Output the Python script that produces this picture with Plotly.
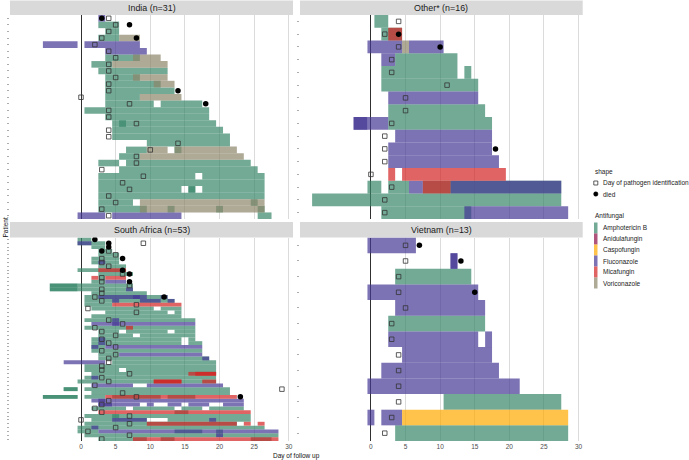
import plotly.graph_objects as go

W, H = 689, 460


def px(x):
    return x / W


def py(y):
    return 1 - y / H


# ---------------- data ----------------
drug_codes = ["A", "N", "C", "F", "M", "V"]
drug_labels = ["Amphotericin B", "Anidulafungin", "Caspofungin", "Fluconazole", "Micafungin", "Voriconazole"]
drug_fill = ["rgba(55,134,105,0.7)", "rgba(141,12,69,0.7)", "rgba(255,170,0,0.7)",
             "rgba(69,55,148,0.7)", "rgba(212,34,34,0.7)", "rgba(141,134,105,0.7)"]
draw_order = ["A", "V", "F", "M", "C", "N"]

panel_titles = ["India (n=31)", "Other* (n=16)", "South Africa (n=53)", "Vietnam (n=13)"]
panel_sizes = [31, 16, 53, 13]
x_ticks = [0, 5, 10, 15, 20, 25, 30]

# segments: (patient, drug, first day, last day)
india_seg = [
    (1, "F", 3, 3),
    (2, "A", 3, 5),
    (3, "A", 4, 5),
    (4, "A", 3, 5), (4, "V", 6, 8),
    (5, "F", -5, -1), (5, "F", 1, 8),
    (6, "F", 4, 9),
    (7, "A", 4, 8), (7, "V", 8, 11),
    (8, "A", 2, 4), (8, "V", 5, 12),
    (9, "A", 3, 12),
    (10, "A", 4, 8), (10, "V", 8, 12),
    (11, "A", 4, 11), (11, "V", 11, 13),
    (12, "A", 4, 13),
    (13, "A", 4, 8), (13, "V", 9, 14),
    (14, "A", 4, 10), (14, "A", 12, 17),
    (15, "A", 1, 18),
    (16, "A", 4, 18),
    (17, "A", 5, 19), (17, "A", 6, 6),
    (18, "A", 5, 20),
    (19, "A", 5, 21),
    (20, "A", 10, 21),
    (21, "A", 7, 9), (21, "V", 10, 12), (21, "V", 14, 22), (21, "A", 14, 14),
    (22, "A", 6, 8), (22, "V", 9, 23),
    (23, "A", 3, 5), (23, "A", 7, 24),
    (24, "A", 6, 25),
    (25, "A", 3, 16), (25, "A", 18, 26),
    (26, "A", 3, 26),
    (27, "A", 3, 14), (27, "A", 16, 16), (27, "A", 16, 16), (27, "A", 18, 26),
    (28, "A", 3, 26),
    (29, "A", 3, 7), (29, "V", 9, 26), (29, "A", 25, 25),
    (30, "A", 3, 9), (30, "V", 9, 26), (30, "A", 13, 13), (30, "A", 20, 20), (30, "A", 26, 26),
    (31, "F", 0, 3), (31, "F", 5, 14), (31, "A", 26, 27),
]
india_id_pat = list(range(1, 32))
india_id_day = [4, 5, 4, 3, 2, 4, 5, 4, 4, 5, 4, 4, 0, 7, 4, 4, 8, 4, 4, 14, 10, 8, 8, 3, 9, 6, 7, 4, 5, 3, 4]
india_died_pat = [1, 2, 4, 12, 14]
india_died_day = [3, 7, 8, 14, 18]

other_seg = [
    (1, "A", 1, 2),
    (2, "A", 2, 4), (2, "M", 3, 4),
    (3, "F", 0, 4), (3, "V", 5, 5), (3, "F", 6, 10),
    (4, "F", 2, 3), (4, "A", 4, 12),
    (5, "A", 2, 12), (5, "A", 14, 14),
    (6, "A", 2, 15),
    (7, "F", 3, 15),
    (8, "A", 3, 16),
    (9, "F", -2, -1), (9, "F", -2, -1), (9, "F", 0, 2), (9, "A", 3, 17),
    (10, "F", 4, 17),
    (11, "F", 3, 17),
    (12, "F", 3, 18),
    (13, "M", 3, 3), (13, "M", 5, 19),
    (14, "A", 0, 1), (14, "A", 3, 5), (14, "F", 6, 7), (14, "A", 8, 27), (14, "M", 8, 11), (14, "F", 12, 27),
    (15, "A", -8, 27),
    (16, "A", 2, 14), (16, "F", 14, 28),
]
other_id_pat = list(range(1, 17))
other_id_day = [4, 2, 4, 3, 3, 11, 5, 5, 3, 2, 2, 2, 0, 3, 2, 2]
other_died_pat = [2, 3, 11]
other_died_day = [4, 10, 18]

sa_seg = [
    (1, "A", 0, 1),
    (2, "A", 0, 3), (2, "F", 0, 1),
    (3, "A", 2, 3),
    (4, "A", 3, 4),
    (5, "A", 3, 5),
    (6, "A", 2, 5),
    (7, "A", 2, 5), (7, "F", 3, 3),
    (8, "A", 3, 6),
    (9, "A", 0, 6), (9, "M", 3, 6),
    (10, "A", 3, 7),
    (11, "M", 2, 2), (11, "A", 3, 3), (11, "M", 4, 6),
    (12, "A", 2, 3), (12, "F", 4, 6),
    (13, "A", -4, -1), (13, "A", -4, -1), (13, "A", 0, 7),
    (14, "A", -4, -1), (14, "A", -4, -1), (14, "A", 0, 7), (14, "F", 7, 7),
    (15, "A", 2, 9),
    (16, "A", 1, 12), (16, "F", 3, 9), (16, "F", 8, 8), (16, "F", 12, 12),
    (17, "A", 1, 13), (17, "F", 5, 5), (17, "F", 9, 11), (17, "F", 13, 13),
    (18, "A", 1, 4), (18, "M", 5, 14),
    (19, "A", 2, 10), (19, "A", 12, 14),
    (20, "A", 4, 12), (20, "A", 14, 14),
    (21, "A", 2, 14),
    (22, "A", 1, 16), (22, "F", 5, 5),
    (23, "F", 2, 16), (23, "F", 5, 5),
    (24, "A", 1, 16), (24, "M", 7, 7),
    (25, "A", 3, 5), (25, "A", 7, 12), (25, "A", 14, 16),
    (26, "A", 3, 7), (26, "A", 9, 16),
    (27, "A", 2, 14), (27, "A", 16, 16), (27, "F", 3, 3),
    (28, "A", 2, 14), (28, "A", 16, 17), (28, "F", 3, 3),
    (29, "A", 2, 3), (29, "F", 2, 2), (29, "F", 4, 17),
    (30, "A", 2, 17),
    (31, "A", 3, 5), (31, "F", 6, 17),
    (32, "A", 3, 18), (32, "F", 18, 18),
    (33, "F", -2, 3), (33, "A", 5, 19),
    (34, "A", 1, 19),
    (35, "A", 1, 5), (35, "A", 7, 19),
    (36, "A", 2, 19), (36, "M", 16, 19), (36, "M", 17, 19),
    (37, "A", 1, 19), (37, "F", 2, 2),
    (38, "A", 0, 19), (38, "M", 11, 14), (38, "M", 11, 14), (38, "M", 18, 19),
    (39, "F", 2, 7), (39, "F", 10, 20),
    (40, "A", -2, -1), (40, "A", -2, -1), (40, "A", 1, 21),
    (41, "A", 2, 21),
    (42, "A", -5, -1), (42, "A", -5, -1), (42, "A", 1, 3), (42, "A", 5, 11), (42, "A", 13, 16), (42, "M", 4, 22),
    (43, "F", 2, 23), (43, "F", 3, 3),
    (44, "F", 3, 4), (44, "F", 3, 4), (44, "F", 5, 8), (44, "F", 10, 10), (44, "F", 13, 14), (44, "F", 16, 18), (44, "F", 21, 23),
    (45, "A", 2, 6), (45, "A", 8, 13), (45, "A", 15, 17), (45, "A", 19, 23),
    (46, "A", 14, 15), (46, "M", 3, 24),
    (47, "A", 1, 24), (47, "A", 5, 5),
    (48, "A", 2, 9), (48, "A", 13, 24), (48, "F", 5, 9), (48, "F", 19, 19),
    (49, "A", 1, 22), (49, "M", 10, 22), (49, "M", 24, 24), (49, "M", 26, 26),
    (50, "A", 0, 26), (50, "F", 2, 2),
    (51, "A", 0, 2), (51, "A", 14, 17), (51, "A", 20, 20), (51, "F", 3, 28),
    (52, "A", 1, 28), (52, "F", 20, 20),
    (53, "A", 3, 7), (53, "A", 8, 9), (53, "A", 12, 13), (53, "A", 25, 27), (53, "M", 8, 28),
]
sa_id_pat = [2, 4, 5, 6, 7, 8, 10, 11, 12, 13, 14, 15, 16, 17, 18, 19, 20, 22, 23, 24, 25, 26, 27, 28,
             29, 30, 31, 32, 33, 34, 35, 36, 37, 38, 39, 40, 41, 42, 43, 44, 45, 46, 47, 48, 49, 50, 51, 52, 53]
sa_id_day = [9, 4, 5, 3, 3, 4, 6, 3, 3, 7, 3, 3, 2, 3, 8, 1, 8, 4, 6, 2, 3, 5, 3, 4,
             5, 3, 5, 4, 4, 3, 3, 7, 3, 4, 2, 29, 6, 8, 4, 3, 2, 3, 7, 0, 7, 5, 1, 7, 3]
sa_died_pat = [1, 2, 3, 4, 6, 9, 10, 12, 16, 42]
sa_died_day = [2, 4, 4, 3, 6, 6, 7, 7, 12, 23]

vn_seg = [
    (1, "F", 0, 6),
    (2, "F", 12, 12), (2, "F", 12, 12),
    (3, "A", 4, 14),
    (4, "F", 0, 15),
    (5, "F", 4, 16),
    (6, "A", 3, 16),
    (7, "F", 3, 15), (7, "F", 17, 17),
    (8, "F", 5, 17),
    (9, "F", 2, 18),
    (10, "F", 0, 21),
    (11, "A", 11, 27),
    (12, "F", 0, 0), (12, "F", 2, 4), (12, "C", 5, 28),
    (13, "A", 4, 28),
]
vn_id_pat = list(range(1, 14))
vn_id_day = [5, 5, 4, 4, 5, 3, 3, 4, 4, 4, 4, 3, 2]
vn_died_pat = [1, 2, 4]
vn_died_day = [7, 13, 15]

# ---------------- layout geometry ----------------
x_left = [px(10), px(293)]
x_right = [px(300), px(582.7)]
y_top = [py(219), py(15)]
y_bot = [py(441), py(237.5)]
panel_dom = [(x_left, y_top), (x_right, y_top), (x_left, y_bot), (x_right, y_bot)]
strip_px = [(10, 293, 0.5, 15), (300, 582.7, 0.5, 15), (10, 293, 222, 237.5), (300, 582.7, 222, 237.5)]

panels = [
    (india_seg, india_id_pat, india_id_day, india_died_pat, india_died_day),
    (other_seg, other_id_pat, other_id_day, other_died_pat, other_died_day),
    (sa_seg, sa_id_pat, sa_id_day, sa_died_pat, sa_died_day),
    (vn_seg, vn_id_pat, vn_id_day, vn_died_pat, vn_died_day),
]

fill_of = dict(zip(drug_codes, drug_fill))
FONT = "Liberation Sans, Arial, sans-serif"

fig = go.Figure()
layout = dict(
    width=W, height=H, margin=dict(l=0, r=0, t=0, b=0),
    paper_bgcolor="white", plot_bgcolor="white", barmode="overlay",
    showlegend=False, font=dict(family=FONT, size=7, color="#222"),
)
shapes = []
annotations = []

for k, (segs, idp, idd, dpat, dday) in enumerate(panels):
    sfx = "" if k == 0 else str(k + 1)
    xa, ya = "x" + sfx, "y" + sfx
    n = panel_sizes[k]
    for code in draw_order:
        rows = [s for s in segs if s[1] == code]
        if not rows:
            continue
        fig.add_trace(go.Bar(
            orientation="h",
            y=[r[0] for r in rows],
            x=[r[3] - r[2] + 1 for r in rows],
            base=[r[2] - 0.5 for r in rows],
            width=1,
            marker=dict(color=fill_of[code], line=dict(width=0)),
            xaxis=xa, yaxis=ya, hoverinfo="skip",
        ))
    fig.add_trace(go.Scatter(
        x=idd, y=idp, mode="markers", xaxis=xa, yaxis=ya, hoverinfo="skip",
        marker=dict(symbol="square-open", size=4.5, color="#333", line=dict(width=0.8, color="#333")),
    ))
    fig.add_trace(go.Scatter(
        x=dday, y=dpat, mode="markers", xaxis=xa, yaxis=ya, hoverinfo="skip",
        marker=dict(symbol="circle", size=5.5, color="black"),
    ))
    xd, yd = panel_dom[k]
    layout["xaxis" + sfx] = dict(
        domain=xd, range=[-10.25, 30.6], anchor=ya, tickvals=x_ticks,
        showgrid=True, gridcolor="#d2d2d2", gridwidth=0.8,
        zeroline=True, zerolinecolor="#1a1a1a", zerolinewidth=0.9,
        showticklabels=(k >= 2), ticks="", showline=False,
        tickfont=dict(size=6.5, color="#4d4d4d"), automargin=False,
    )
    layout["yaxis" + sfx] = dict(
        domain=yd, range=[n + 0.5, 0.5], anchor=xa,
        tickvals=list(range(1, n + 1)), ticks="outside", ticklen=2, tickwidth=0.7,
        tickcolor="#8a8a8a", showticklabels=False, showgrid=False, zeroline=False,
        showline=False, automargin=False,
    )
    x0, x1, y0, y1 = strip_px[k]
    shapes.append(dict(type="rect", xref="paper", yref="paper", x0=px(x0), x1=px(x1),
                       y0=py(y1), y1=py(y0), fillcolor="#d9d9d9", line=dict(width=0), layer="below"))
    annotations.append(dict(xref="paper", yref="paper", x=px((x0 + x1) / 2), y=py((y0 + y1) / 2),
                            text=panel_titles[k], showarrow=False, xanchor="center", yanchor="middle",
                            font=dict(size=8.9, color="#1a1a1a")))

# axis titles
annotations.append(dict(xref="paper", yref="paper", x=px(296), y=py(455.5), text="Day of follow up",
                        showarrow=False, xanchor="center", yanchor="middle", font=dict(size=6.5, color="#111")))
annotations.append(dict(xref="paper", yref="paper", x=px(4.5), y=py(228), text="Patient", textangle=-90,
                        showarrow=False, xanchor="center", yanchor="middle", font=dict(size=6.5, color="#111")))

# legend: shape
LEG_FONT = dict(size=6.5, color="#222")
annotations.append(dict(xref="paper", yref="paper", x=px(593), y=py(171.5), text="shape", showarrow=False,
                        xanchor="left", yanchor="middle", font=LEG_FONT))
shapes.append(dict(type="rect", xref="paper", yref="paper", x0=px(593.8), x1=px(597.8), y0=py(185), y1=py(181),
                   line=dict(color="#333", width=0.8), fillcolor="rgba(0,0,0,0)"))
annotations.append(dict(xref="paper", yref="paper", x=px(601), y=py(183), text="Day of pathogen identification",
                        showarrow=False, xanchor="left", yanchor="middle", font=LEG_FONT))
shapes.append(dict(type="circle", xref="paper", yref="paper", x0=px(593.6), x1=px(598), y0=py(196.2), y1=py(191.8),
                   line=dict(color="black", width=0.5), fillcolor="black"))
annotations.append(dict(xref="paper", yref="paper", x=px(601), y=py(194), text="died",
                        showarrow=False, xanchor="left", yanchor="middle", font=LEG_FONT))
# legend: antifungal
annotations.append(dict(xref="paper", yref="paper", x=px(593), y=py(216), text="Antifungal", showarrow=False,
                        xanchor="left", yanchor="middle", font=LEG_FONT))
for i, (lab, col) in enumerate(zip(drug_labels, drug_fill)):
    yc = 228 + 11 * i
    shapes.append(dict(type="rect", xref="paper", yref="paper", x0=px(594), x1=px(597.5),
                       y0=py(yc + 5.5), y1=py(yc - 5.5), fillcolor=col, line=dict(width=0)))
    annotations.append(dict(xref="paper", yref="paper", x=px(601), y=py(yc), text=lab, showarrow=False,
                            xanchor="left", yanchor="middle", font=LEG_FONT))

layout["shapes"] = shapes
layout["annotations"] = annotations
fig.update_layout(**layout)
fig.write_html("out.html", config={"displayModeBar": False, "staticPlot": True},
               post_script="document.body.style.margin='0';document.body.style.overflow='hidden';")
